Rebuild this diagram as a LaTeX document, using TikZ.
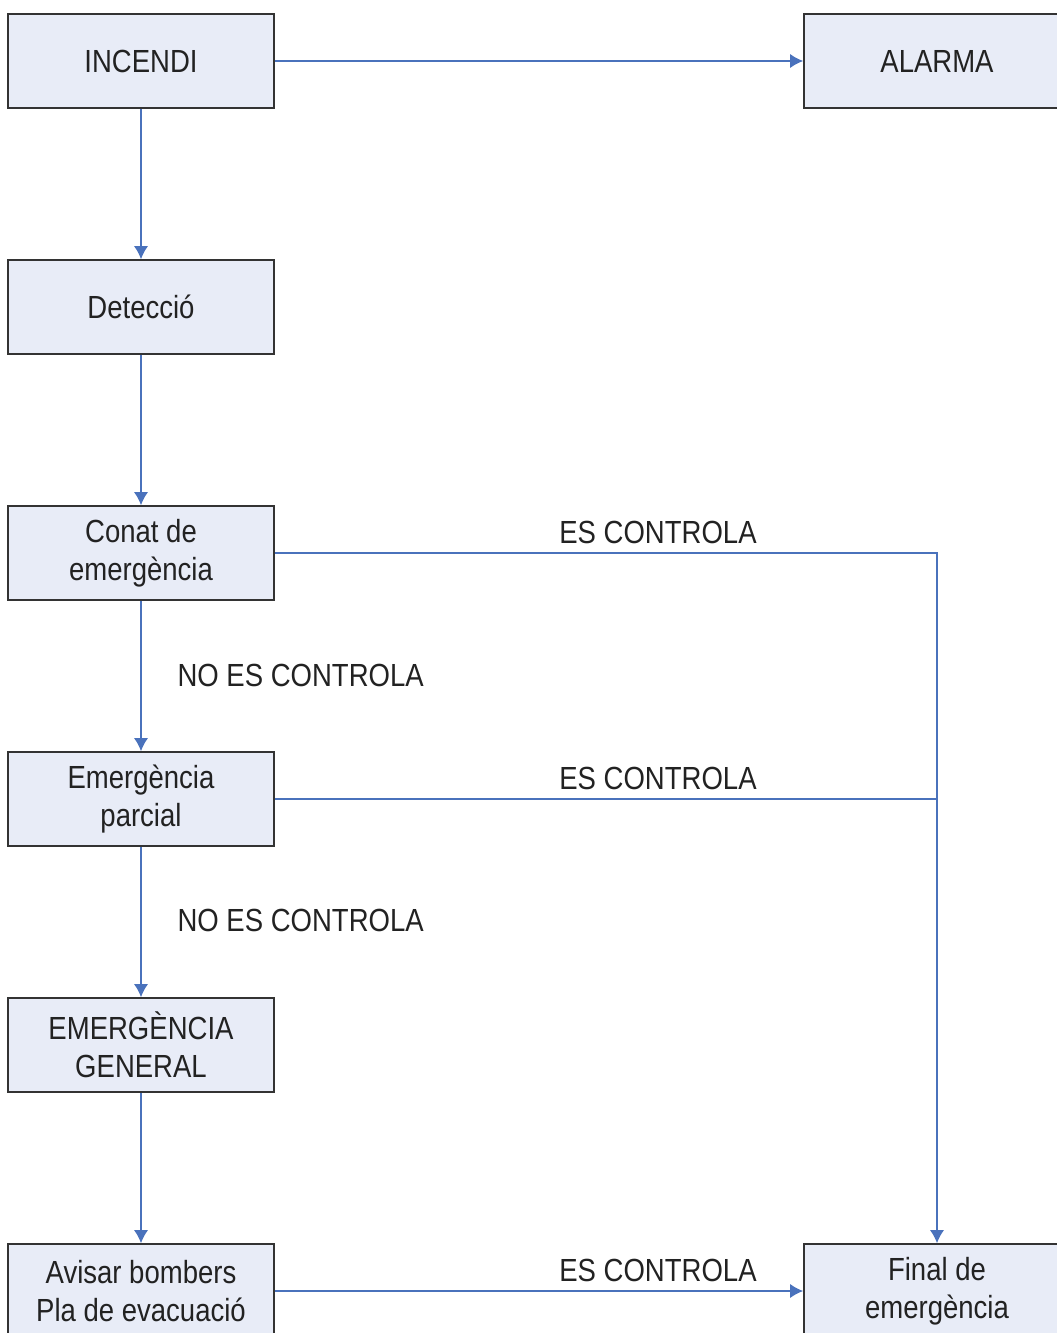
\documentclass[tikz,border=0pt]{standalone}
\usepackage{fontspec}
\setmainfont{Liberation Sans}[FakeStretch=0.86]
\usepackage{tikz}
\usetikzlibrary{positioning}
\usetikzlibrary{arrows.meta}
\definecolor{fons}{HTML}{E8ECF7}
\definecolor{vora}{HTML}{333333}
\definecolor{linia}{HTML}{4A72BC}
\definecolor{text}{HTML}{222222}

\begin{document}
\begin{tikzpicture}[x=1pt, y=-1pt,
  every node/.style={text=text, font=\fontsize{32}{38}\selectfont},
  caixa/.style={draw=vora, line width=1.6pt, fill=fons, minimum width=266pt, minimum height=94pt, align=center, inner sep=0pt},
  fletxa/.style={-{Latex[length=13pt, width=14pt]}, linia, line width=1.4pt},
  linea/.style={linia, line width=1.4pt}]
            \useasboundingbox (0,0) rectangle (1057,1333);
            % Nodos
            \node[caixa] (incendi) at (141,61) {INCENDI};
            \node[caixa] (alarma) at (937,61) {ALARMA};
            \node[caixa] (deteccio) at (141,307) {Detecció};
            \node[caixa] (conat) at (141,553) {Conat de\\emergència};
            \node[caixa] (parcial) at (141,799) {Emergència\\parcial};
            \node[caixa] (general) at (141,1045) {EMERGÈNCIA\\GENERAL};
            \node[caixa] (avisar) at (141,1291) {Avisar bombers\\Pla de evacuació};
            \node[caixa] (final) at (937,1291) {Final de\\emergència};
            \coordinate (unio) at (936,799);

            % Etiquetas
            \node (es1) at (658,532) {ES CONTROLA};
            \node (es2) at (658,778) {ES CONTROLA};
            \node (es3) at (658,1270) {ES CONTROLA};
            \node[anchor=west] (no1) at (174,675) {NO ES CONTROLA};
            \node[anchor=west] (no2) at (174,920) {NO ES CONTROLA};

            % Aristas
            \draw[fletxa] (incendi) -- (alarma);
            \draw[fletxa] (incendi) -- (deteccio);
            \draw[fletxa] (deteccio) -- (conat);
            \draw[fletxa] (conat) -- (parcial);
            \draw[fletxa] (parcial) -- (general);
            \draw[fletxa] (general) -- (avisar);
            \draw[fletxa] (avisar) -- (final);
            \draw[fletxa] (conat) -| (final);
            \draw[linea] (parcial) -- (unio);
          \end{tikzpicture}
\end{document}
